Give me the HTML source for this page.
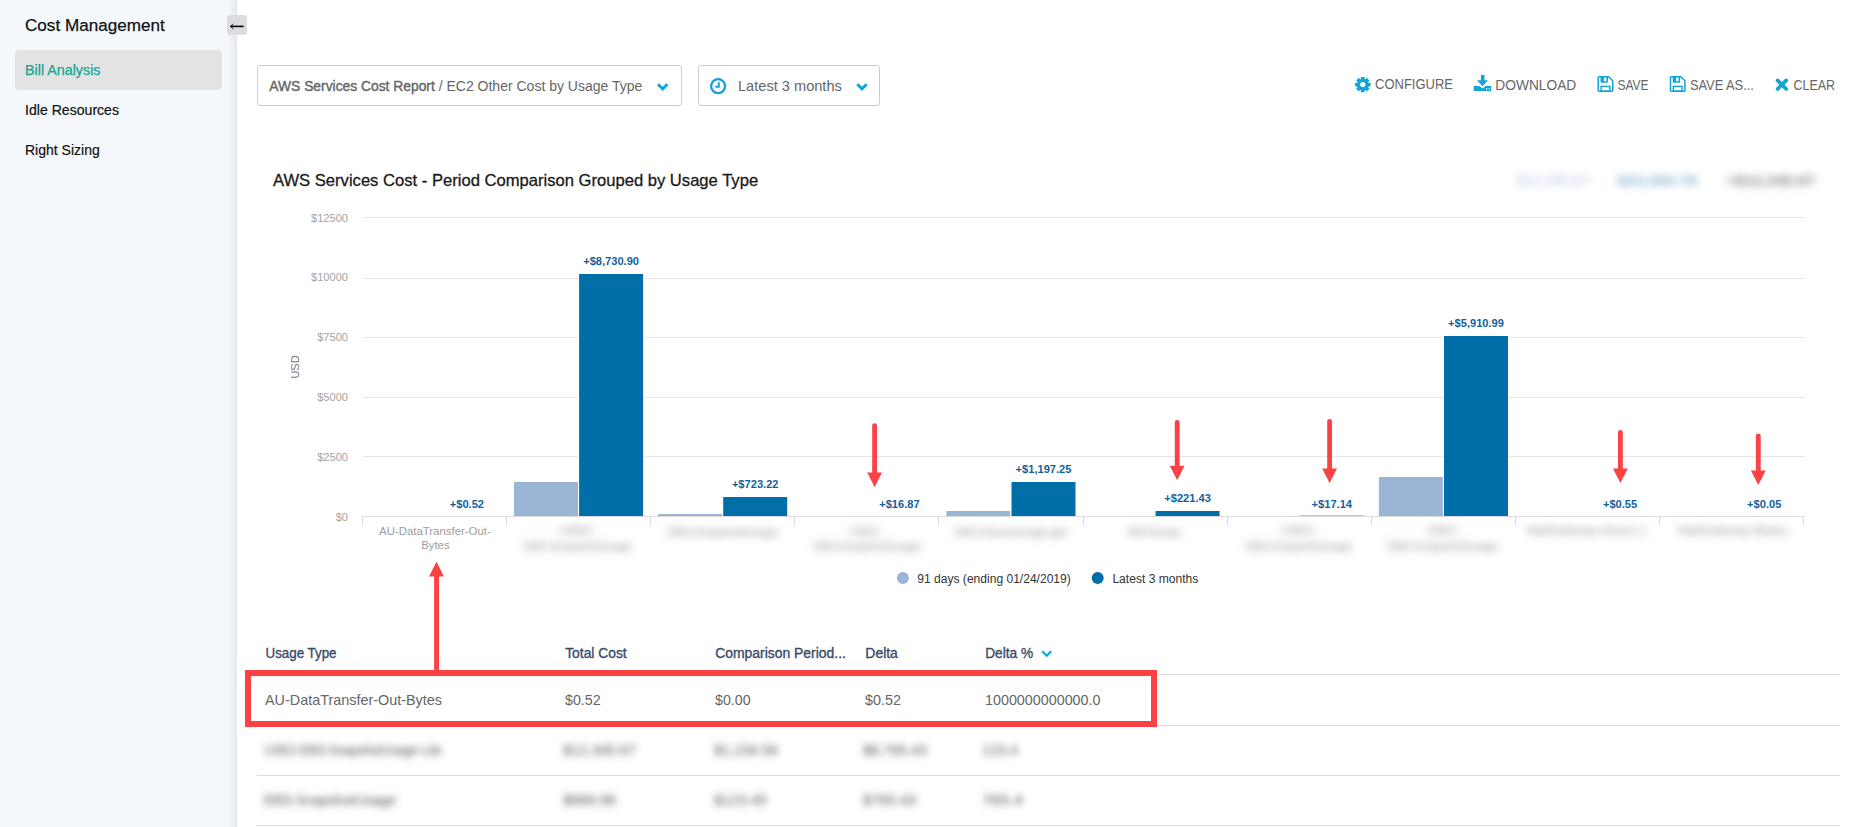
<!DOCTYPE html>
<html><head><meta charset="utf-8">
<style>
*{box-sizing:border-box;margin:0;padding:0}
html,body{width:1858px;height:827px;overflow:hidden;background:#fff;font-family:"Liberation Sans",sans-serif;}
.a{position:absolute;white-space:nowrap}
#side{position:absolute;left:0;top:0;width:237px;height:827px;background:#f5f9fc;}
#side:after{content:"";position:absolute;right:0;top:0;width:9px;height:827px;background:linear-gradient(to right,rgba(228,231,235,0),rgba(228,231,235,1));}
#sel{position:absolute;left:15px;top:50px;width:207px;height:40px;background:#e3e3e3;border-radius:4px;}
#colbtn{position:absolute;left:227px;top:15px;width:20px;height:20px;background:#dcdde0;border-radius:3px;z-index:3}
.dd{position:absolute;top:65px;height:41px;border:1px solid #ccc;border-radius:3px;background:#fff}
svg text{font-family:"Liberation Sans",sans-serif}
</style></head><body>
<div id="side">
  <div id="sel"></div>
</div>
<svg class="a" style="left:0;top:0" width="237" height="200">
<text x="25" y="31" font-size="17.1" fill="#111" stroke="#111" stroke-width="0.25">Cost Management</text>
<text x="25" y="75.4" font-size="14.3" fill="#12a594" stroke="#12a594" stroke-width="0.25">Bill Analysis</text>
<text x="25" y="115.2" font-size="14.1" fill="#111" stroke="#111" stroke-width="0.2">Idle Resources</text>
<text x="25" y="155.2" font-size="14" fill="#111" stroke="#111" stroke-width="0.2">Right Sizing</text>
</svg>
<div id="colbtn"><svg width="20" height="20" viewBox="0 0 20 20" style="position:absolute;left:0;top:0"><path d="M3.5 11.4H16.6" stroke="#000" stroke-width="1.6"/><path d="M6.4 8.9L3.6 11.4L6.4 13.9" stroke="#000" stroke-width="0.9" fill="none"/></svg></div>
<div class="dd" style="left:257px;width:425px"></div>
<div class="dd" style="left:698px;width:182px"></div>
<svg class="a" style="left:0;top:0" width="1858" height="827">
<defs><filter id="bl" x="-20%" y="-100%" width="140%" height="300%"><feGaussianBlur stdDeviation="4"/></filter><filter id="bl2" x="-5%" y="-50%" width="110%" height="200%"><feGaussianBlur stdDeviation="3.6"/></filter><filter id="bl3" x="-10%" y="-100%" width="120%" height="300%"><feGaussianBlur stdDeviation="4"/></filter></defs>
<text x="269.3" y="91.2" font-size="14" fill="#666"><tspan stroke="#666" stroke-width="0.4" textLength="165.5" lengthAdjust="spacingAndGlyphs">AWS Services Cost Report</tspan> / EC2 Other Cost by Usage Type</text>
<path d="M658 84.2L662.7 88.9L667.4 84.2" stroke="#12a3d8" stroke-width="2.9" fill="none"/>
<circle cx="718.1" cy="86.2" r="7" stroke="#12a3d8" stroke-width="2.3" fill="none"/><path d="M718.8 82.2V86.8H715.3" stroke="#12a3d8" stroke-width="2" fill="none"/>
<text x="738" y="91.2" font-size="14.6" fill="#666">Latest 3 months</text>
<path d="M857.3 84.2L862 88.9L866.7 84.2" stroke="#12a3d8" stroke-width="2.9" fill="none"/>
<g transform="translate(1362.8,84.6)" fill="#12a3d8"><circle r="5.8"/><rect x="-1.9" y="-7.7" width="3.8" height="4" rx="0.5" transform="rotate(0)"/><rect x="-1.9" y="-7.7" width="3.8" height="4" rx="0.5" transform="rotate(45)"/><rect x="-1.9" y="-7.7" width="3.8" height="4" rx="0.5" transform="rotate(90)"/><rect x="-1.9" y="-7.7" width="3.8" height="4" rx="0.5" transform="rotate(135)"/><rect x="-1.9" y="-7.7" width="3.8" height="4" rx="0.5" transform="rotate(180)"/><rect x="-1.9" y="-7.7" width="3.8" height="4" rx="0.5" transform="rotate(225)"/><rect x="-1.9" y="-7.7" width="3.8" height="4" rx="0.5" transform="rotate(270)"/><rect x="-1.9" y="-7.7" width="3.8" height="4" rx="0.5" transform="rotate(315)"/><circle r="2.6" fill="#fff"/></g>
<text x="1375" y="88.9" font-size="14" fill="#666" textLength="78" lengthAdjust="spacingAndGlyphs">CONFIGURE</text>
<g transform="translate(1473,74)" fill="#12a3d8"><rect x="7.9" y="0.9" width="3.6" height="6"/><path d="M4 6.3H15L9.5 12.3Z"/><path d="M0.8 12H6.3L9.5 14.6L12.7 12H18.2V16.9H0.8Z"/><rect x="13.1" y="14" width="1.1" height="1.6" fill="#fff"/><rect x="15.7" y="14" width="1.1" height="1.6" fill="#fff"/></g>
<text x="1495.3" y="89.9" font-size="14" fill="#666" textLength="81" lengthAdjust="spacingAndGlyphs">DOWNLOAD</text>
<g transform="translate(1597.5,76)"><path d="M1.6 0.75H11.2L15.25 4.8V14.4Q15.25 15.25 14.4 15.25H1.6Q0.75 15.25 0.75 14.4V1.6Q0.75 0.75 1.6 0.75Z" stroke="#12a3d8" stroke-width="1.5" fill="none"/><rect x="3" y="0.75" width="7.4" height="6" rx="0.9" fill="#12a3d8"/><rect x="6.4" y="1.6" width="2.4" height="3.7" fill="#fff"/><rect x="3.6" y="10.4" width="8.8" height="4.85" stroke="#12a3d8" stroke-width="1.4" fill="none"/></g>
<text x="1617.4" y="89.9" font-size="14" fill="#666" textLength="31.2" lengthAdjust="spacingAndGlyphs">SAVE</text>
<g transform="translate(1669.7,76)"><path d="M1.6 0.75H11.2L15.25 4.8V14.4Q15.25 15.25 14.4 15.25H1.6Q0.75 15.25 0.75 14.4V1.6Q0.75 0.75 1.6 0.75Z" stroke="#12a3d8" stroke-width="1.5" fill="none"/><rect x="3" y="0.75" width="7.4" height="6" rx="0.9" fill="#12a3d8"/><rect x="6.4" y="1.6" width="2.4" height="3.7" fill="#fff"/><rect x="3.6" y="10.4" width="8.8" height="4.85" stroke="#12a3d8" stroke-width="1.4" fill="none"/></g>
<text x="1689.9" y="89.9" font-size="14" fill="#666" textLength="64" lengthAdjust="spacingAndGlyphs">SAVE AS...</text>
<path d="M1777.6 80.4L1786.2 89M1786.2 80.4L1777.6 89" stroke="#12a3d8" stroke-width="3.7" stroke-linecap="round"/>
<text x="1793.5" y="89.9" font-size="14" fill="#666" textLength="41.5" lengthAdjust="spacingAndGlyphs">CLEAR</text>
<g filter="url(#bl3)">
<text x="1517" y="184.5" font-size="12.5" fill="#a9bcd9" textLength="72" lengthAdjust="spacingAndGlyphs">$12,345.67</text>
<text x="1617" y="184.5" font-size="12.5" font-weight="bold" fill="#78abcc" textLength="80" lengthAdjust="spacingAndGlyphs">$23,456.78</text>
<text x="1726" y="184.5" font-size="12.5" font-weight="bold" fill="#777" textLength="89" lengthAdjust="spacingAndGlyphs">+$12,345.67</text>
</g>
<text x="273" y="186.2" font-size="16.6" fill="#1a1a1a" stroke="#1a1a1a" stroke-width="0.3">AWS Services Cost - Period Comparison Grouped by Usage Type</text>
<rect x="363" y="217" width="1442" height="1" fill="#e6e6e6"/>
<rect x="363" y="278" width="1442" height="1" fill="#e6e6e6"/>
<rect x="363" y="337" width="1442" height="1" fill="#e6e6e6"/>
<rect x="363" y="397" width="1442" height="1" fill="#e6e6e6"/>
<rect x="363" y="456" width="1442" height="1" fill="#e6e6e6"/>
<text x="348" y="221.6" text-anchor="end" font-size="11.1" fill="#a3a3a3">$12500</text>
<text x="348" y="281.4" text-anchor="end" font-size="11.1" fill="#a3a3a3">$10000</text>
<text x="348" y="341.2" text-anchor="end" font-size="11.1" fill="#a3a3a3">$7500</text>
<text x="348" y="401.0" text-anchor="end" font-size="11.1" fill="#a3a3a3">$5000</text>
<text x="348" y="460.8" text-anchor="end" font-size="11.1" fill="#a3a3a3">$2500</text>
<text x="348" y="520.6" text-anchor="end" font-size="11.1" fill="#a3a3a3">$0</text>
<text transform="translate(298.8,367) rotate(-90)" text-anchor="middle" font-size="11" fill="#777">USD</text>
<rect x="513.0" y="481" width="66" height="36" fill="#fff"/>
<rect x="514.0" y="482" width="64" height="34" fill="#9bb5d5"/>
<rect x="578.1" y="273" width="66" height="244" fill="#fff"/>
<rect x="579.1" y="274" width="64" height="242" fill="#006ea8"/>
<rect x="657.1" y="513" width="66" height="4" fill="#fff"/>
<rect x="658.1" y="514" width="64" height="2" fill="#9bb5d5"/>
<rect x="722.2" y="496" width="66" height="21" fill="#fff"/>
<rect x="723.2" y="497" width="64" height="19" fill="#006ea8"/>
<rect x="945.4" y="510" width="66" height="7" fill="#fff"/>
<rect x="946.4" y="511" width="64" height="5" fill="#9bb5d5"/>
<rect x="1010.5" y="481" width="66" height="36" fill="#fff"/>
<rect x="1011.5" y="482" width="64" height="34" fill="#006ea8"/>
<rect x="1154.6" y="510" width="66" height="7" fill="#fff"/>
<rect x="1155.6" y="511" width="64" height="5" fill="#006ea8"/>
<rect x="1299.8" y="515" width="64" height="1" fill="#b3cbe0"/>
<rect x="1377.9" y="476" width="66" height="41" fill="#fff"/>
<rect x="1378.9" y="477" width="64" height="39" fill="#9bb5d5"/>
<rect x="1443.0" y="335" width="66" height="182" fill="#fff"/>
<rect x="1444.0" y="336" width="64" height="180" fill="#006ea8"/>
<rect x="363" y="516" width="1442" height="1" fill="#dcdcdc"/>
<rect x="362" y="516" width="1" height="10" fill="#dcdcdc"/>
<rect x="506" y="516" width="1" height="10" fill="#dcdcdc"/>
<rect x="650" y="516" width="1" height="10" fill="#dcdcdc"/>
<rect x="794" y="516" width="1" height="10" fill="#dcdcdc"/>
<rect x="938" y="516" width="1" height="10" fill="#dcdcdc"/>
<rect x="1083" y="516" width="1" height="10" fill="#dcdcdc"/>
<rect x="1227" y="516" width="1" height="10" fill="#dcdcdc"/>
<rect x="1371" y="516" width="1" height="10" fill="#dcdcdc"/>
<rect x="1515" y="516" width="1" height="10" fill="#dcdcdc"/>
<rect x="1659" y="516" width="1" height="10" fill="#dcdcdc"/>
<rect x="1803" y="516" width="1" height="10" fill="#dcdcdc"/>
<text x="466.9" y="508" text-anchor="middle" font-size="11.1" font-weight="bold" fill="#11629c">+$0.52</text>
<text x="611.1" y="265" text-anchor="middle" font-size="11.1" font-weight="bold" fill="#11629c">+$8,730.90</text>
<text x="755.2" y="488" text-anchor="middle" font-size="11.1" font-weight="bold" fill="#11629c">+$723.22</text>
<text x="899.4" y="508" text-anchor="middle" font-size="11.1" font-weight="bold" fill="#11629c">+$16.87</text>
<text x="1043.5" y="473" text-anchor="middle" font-size="11.1" font-weight="bold" fill="#11629c">+$1,197.25</text>
<text x="1187.6" y="502" text-anchor="middle" font-size="11.1" font-weight="bold" fill="#11629c">+$221.43</text>
<text x="1331.8" y="508" text-anchor="middle" font-size="11.1" font-weight="bold" fill="#11629c">+$17.14</text>
<text x="1476.0" y="327" text-anchor="middle" font-size="11.1" font-weight="bold" fill="#11629c">+$5,910.99</text>
<text x="1620.1" y="508" text-anchor="middle" font-size="11.1" font-weight="bold" fill="#11629c">+$0.55</text>
<text x="1764.2" y="508" text-anchor="middle" font-size="11.1" font-weight="bold" fill="#11629c">+$0.05</text>
<text x="434.9" y="534.8" text-anchor="middle" font-size="11.4" fill="#9d9d9d">AU-DataTransfer-Out-</text>
<text x="435.4" y="548.8" text-anchor="middle" font-size="11.4" fill="#9d9d9d">Bytes</text>
<g filter="url(#bl)">
<text x="560" y="534" font-size="11.4" fill="#888" textLength="35" lengthAdjust="spacingAndGlyphs">USE2-</text>
<text x="524" y="550" font-size="11.4" fill="#888" textLength="108" lengthAdjust="spacingAndGlyphs">EBS:SnapshotUsage</text>
<text x="668" y="536" font-size="11.4" fill="#888" textLength="110" lengthAdjust="spacingAndGlyphs">EBS:SnapshotUsage</text>
<text x="850" y="535" font-size="11.4" fill="#888" textLength="32" lengthAdjust="spacingAndGlyphs">USE2-</text>
<text x="814" y="550" font-size="11.4" fill="#888" textLength="107" lengthAdjust="spacingAndGlyphs">EBS:SnapshotUsage</text>
<text x="955" y="535.5" font-size="11.4" fill="#888" textLength="113" lengthAdjust="spacingAndGlyphs">EBS:VolumeUsage.gp2</text>
<text x="1128" y="535.5" font-size="11.4" fill="#888" textLength="53" lengthAdjust="spacingAndGlyphs">EBS:IOUsage</text>
<text x="1281" y="534" font-size="11.4" fill="#888" textLength="36" lengthAdjust="spacingAndGlyphs">USE2-</text>
<text x="1246" y="549.5" font-size="11.4" fill="#888" textLength="106" lengthAdjust="spacingAndGlyphs">EBS:SnapshotUsage</text>
<text x="1427" y="534" font-size="11.4" fill="#888" textLength="32" lengthAdjust="spacingAndGlyphs">USE2-</text>
<text x="1388" y="549.5" font-size="11.4" fill="#888" textLength="110" lengthAdjust="spacingAndGlyphs">EBS:SnapshotUsage</text>
<text x="1527" y="534" font-size="11.4" fill="#888" textLength="119" lengthAdjust="spacingAndGlyphs">NatGateway-Hours-x</text>
<text x="1678" y="534" font-size="11.4" fill="#888" textLength="110" lengthAdjust="spacingAndGlyphs">NatGateway-Bytes</text>
</g>
<circle cx="902.9" cy="577.9" r="6" fill="#9bb5d5"/>
<text x="917.3" y="583" font-size="12.3" fill="#333" textLength="153.5" lengthAdjust="spacingAndGlyphs">91 days (ending 01/24/2019)</text>
<circle cx="1097.7" cy="577.9" r="6" fill="#006ea8"/>
<text x="1112.4" y="583" font-size="12.3" fill="#333" textLength="86" lengthAdjust="spacingAndGlyphs">Latest 3 months</text>
<rect x="257" y="674" width="1583" height="1" fill="#dddddd"/>
<rect x="257" y="725" width="1583" height="1" fill="#dddddd"/>
<rect x="257" y="775" width="1583" height="1" fill="#dddddd"/>
<rect x="257" y="825" width="1583" height="1" fill="#dddddd"/>
<text x="265.5" y="657.9" font-size="13.8" fill="#3b4c68" stroke="#3b4c68" stroke-width="0.35" textLength="71" lengthAdjust="spacingAndGlyphs">Usage Type</text>
<text x="565.2" y="657.9" font-size="13.8" fill="#3b4c68" stroke="#3b4c68" stroke-width="0.35" textLength="61.5" lengthAdjust="spacingAndGlyphs">Total Cost</text>
<text x="715.2" y="657.9" font-size="13.8" fill="#3b4c68" stroke="#3b4c68" stroke-width="0.35" textLength="130.7" lengthAdjust="spacingAndGlyphs">Comparison Period...</text>
<text x="865.3" y="657.9" font-size="13.8" fill="#3b4c68" stroke="#3b4c68" stroke-width="0.35" textLength="32.6" lengthAdjust="spacingAndGlyphs">Delta</text>
<text x="985.2" y="657.9" font-size="13.8" fill="#3b4c68" stroke="#3b4c68" stroke-width="0.35" textLength="48" lengthAdjust="spacingAndGlyphs">Delta %</text>
<path d="M1042.2 651.3L1046.7 655.8L1051.2 651.3" stroke="#12a3d8" stroke-width="2.2" fill="none"/>
<text x="265" y="705.1" font-size="14.2" fill="#666" textLength="177" lengthAdjust="spacingAndGlyphs">AU-DataTransfer-Out-Bytes</text>
<text x="565" y="705.1" font-size="14.2" fill="#666" textLength="35.7" lengthAdjust="spacingAndGlyphs">$0.52</text>
<text x="715" y="705.1" font-size="14.2" fill="#666" textLength="35.6" lengthAdjust="spacingAndGlyphs">$0.00</text>
<text x="865" y="705.1" font-size="14.2" fill="#666" textLength="36" lengthAdjust="spacingAndGlyphs">$0.52</text>
<text x="985" y="705.1" font-size="14.2" fill="#666" textLength="115.5" lengthAdjust="spacingAndGlyphs">1000000000000.0</text>
<g filter="url(#bl2)">
<text x="264" y="754.5" font-size="14" fill="#555" textLength="178" lengthAdjust="spacingAndGlyphs">USE2-EBS:SnapshotUsage-Lite</text>
<text x="563" y="754.5" font-size="14" fill="#555" textLength="73" lengthAdjust="spacingAndGlyphs">$12,345.67</text>
<text x="714" y="754.5" font-size="14" fill="#555" textLength="64" lengthAdjust="spacingAndGlyphs">$1,234.56</text>
<text x="863" y="754.5" font-size="14" fill="#555" textLength="64" lengthAdjust="spacingAndGlyphs">$8,765.43</text>
<text x="982" y="754.5" font-size="14" fill="#555" textLength="36" lengthAdjust="spacingAndGlyphs">123.4</text>
<text x="264" y="804.5" font-size="14" fill="#555" textLength="132" lengthAdjust="spacingAndGlyphs">EBS:SnapshotUsage</text>
<text x="563" y="804.5" font-size="14" fill="#555" textLength="53" lengthAdjust="spacingAndGlyphs">$999.99</text>
<text x="714" y="804.5" font-size="14" fill="#555" textLength="53" lengthAdjust="spacingAndGlyphs">$123.45</text>
<text x="863" y="804.5" font-size="14" fill="#555" textLength="53" lengthAdjust="spacingAndGlyphs">$765.43</text>
<text x="982" y="804.5" font-size="14" fill="#555" textLength="41" lengthAdjust="spacingAndGlyphs">765.4</text>
</g>
<path d="M874.6 425.59999999999997V474" stroke="#fb4144" stroke-width="4.8" stroke-linecap="round"/>
<path d="M867.2 472.5H882.0L874.6 487Z" fill="#fb4144"/>
<path d="M1177.2 422.4V467.3" stroke="#fb4144" stroke-width="4.8" stroke-linecap="round"/>
<path d="M1169.8 465.8H1184.6000000000001L1177.2 480.3Z" fill="#fb4144"/>
<path d="M1329.6 421.4V470" stroke="#fb4144" stroke-width="4.8" stroke-linecap="round"/>
<path d="M1322.1999999999998 468.5H1337.0L1329.6 483Z" fill="#fb4144"/>
<path d="M1620.4 432.4V470" stroke="#fb4144" stroke-width="4.8" stroke-linecap="round"/>
<path d="M1613.0 468.5H1627.8000000000002L1620.4 483Z" fill="#fb4144"/>
<path d="M1758.3 435.79999999999995V472" stroke="#fb4144" stroke-width="4.8" stroke-linecap="round"/>
<path d="M1750.8999999999999 470.5H1765.7L1758.3 485Z" fill="#fb4144"/>
<rect x="434.1" y="575" width="4.9" height="97" fill="#fb4144"/>
<path d="M429 576.6H443.9L436.5 561.8Z" fill="#fb4144"/>
<rect x="248" y="673" width="906" height="51" stroke="#fb4144" stroke-width="6" fill="none"/>
</svg>
</body></html>
